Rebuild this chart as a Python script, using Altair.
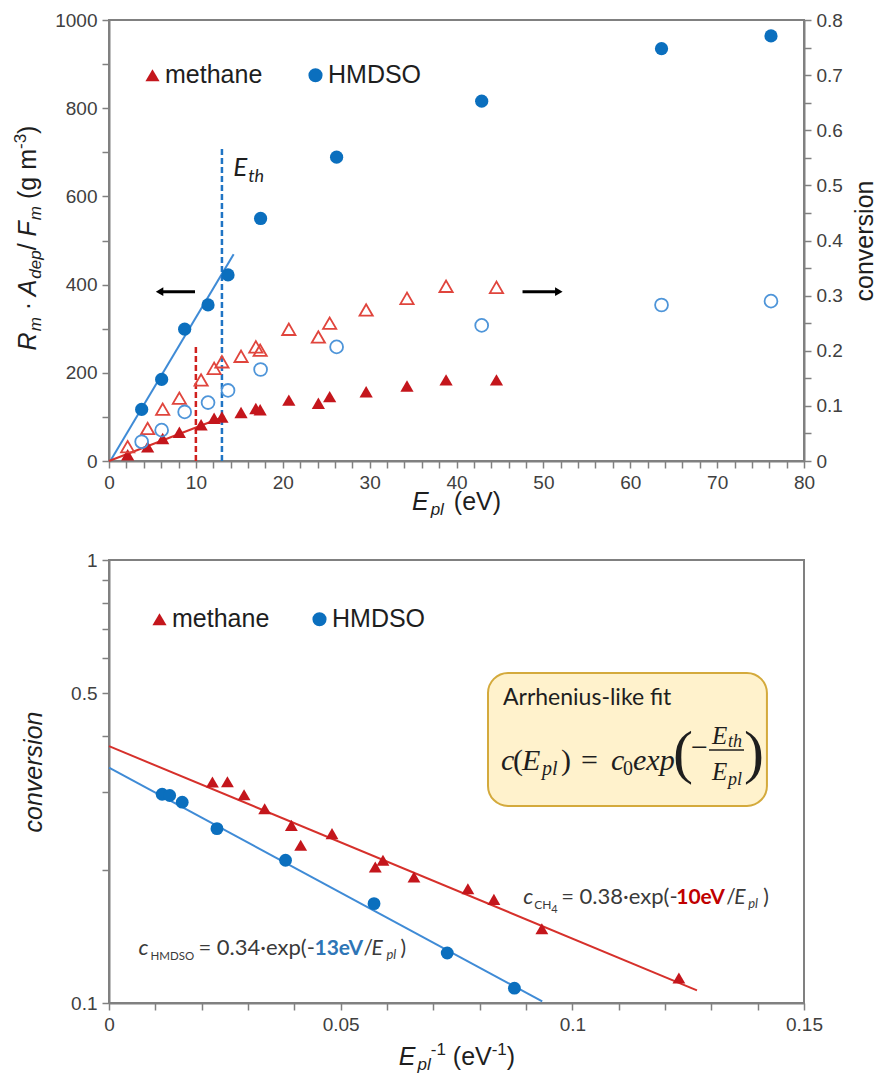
import math
import altair as alt
import pandas as pd

# ---------------- upper panel: E_pl (eV) vs deposition / conversion ----------------
hmdso_energy = [3.76, 6.06, 8.71, 11.4, 13.7, 17.45, 26.2, 42.9, 63.6, 76.2]
hmdso_rate = [117, 185, 299, 354, 422, 550, 689, 816, 935, 964]
hmdso_conversion = [0.035, 0.056, 0.089, 0.106, 0.128, 0.166, 0.207, 0.246, 0.283, 0.290]

methane_energy = [2.15, 4.45, 6.18, 8.1, 10.6, 12.1, 13.0, 15.2, 16.9, 17.4, 20.7,
                  24.1, 25.4, 29.6, 34.3, 38.8, 44.6]
methane_rate = [14, 32, 51, 65, 82, 97, 100, 110, 119, 116, 138, 131, 146, 157, 170, 184, 184]
methane_conversion = [0.026, 0.059, 0.094, 0.114, 0.147, 0.168, 0.180, 0.190, 0.207, 0.201,
                      0.239, 0.225, 0.250, 0.274, 0.295, 0.317, 0.315]

# linear onset fits (two end points each)
hmdso_onset_energy = [0.15, 14.35]
hmdso_onset_rate = [0, 469]
methane_onset_energy = [0.0, 13.3]
methane_onset_rate = [0, 101]

# threshold energies E_th and the height of their dashed markers
threshold_energy = [13, 10]
threshold_top = [714, 263]

# ---------------- lower panel: 1/E_pl vs conversion ----------------
hmdso_inv_energy = [0.01147, 0.0131, 0.0158, 0.0233, 0.0381, 0.0572, 0.0730, 0.0875]
hmdso_conv_log = [0.296, 0.294, 0.284, 0.2475, 0.210, 0.1676, 0.1297, 0.108]

methane_inv_energy = [0.02232, 0.02556, 0.02915, 0.0336, 0.03936, 0.04137, 0.04813,
                      0.05747, 0.05913, 0.06582, 0.07746, 0.08307, 0.09342, 0.1230]
methane_conv_log = [0.3154, 0.3159, 0.2951, 0.2745, 0.2518, 0.227, 0.2411,
                    0.2028, 0.21, 0.1925, 0.1811, 0.1714, 0.1471, 0.1139]

# Arrhenius-like fits c = c0 * exp(-E_th / E_pl)
fit_gas = ["methane", "HMDSO"]
fit_c0 = [0.38, 0.34]
fit_eth = [10, 13]
fit_inv_max = [0.1269, 0.0935]

# ---------------- styling ----------------
BLUE = "#0B6FBE"
BLUE_OPEN = "#4E95D9"
BLUE_LINE = "#3F8BD6"
BLUE_DASH = "#1F74C4"
BLUE_TEXT = "#2E75B6"
RED = "#C4161C"
RED_OPEN = "#E0453D"
RED_LINE = "#D6302B"
RED_DASH = "#D0201E"
RED_TEXT = "#C00000"
INK = "#1E1E1E"
GREY_TEXT = "#3A3A3A"
AXIS_GREY = "#808080"
LABEL = "#404040"
SANS = "Liberation Sans"
HUMANIST = "Lato"
SERIF = "Liberation Serif"

W = 695
H_TOP = 441
H_BOT = 443
ONE = pd.DataFrame({"k": [0]})
GAS = ["methane", "HMDSO"]

# Arial-compatible advance widths (1/1000 em) for laying out rich titles
ADV = {" ": 278, "(": 333, ")": 333, "-": 333, ".": 278, "/": 278, "·": 278, "=": 584,
       "A": 667, "E": 667, "F": 611, "R": 722, "V": 667, "a": 556, "c": 500, "d": 556,
       "e": 556, "g": 556, "h": 556, "i": 222, "l": 222, "m": 833, "n": 556, "o": 556,
       "p": 556, "r": 333, "s": 500, "t": 278, "v": 500}


def adv(text, size):
    return sum(ADV.get(ch, 556) for ch in text) * size / 1000.0


def piece(text, x, y, dx=0, dy=0, size=25, italic=False, bold=False, color=INK,
          font=SANS, angle=0, align="left", baseline="alphabetic", data=ONE):
    return alt.Chart(data).mark_text(
        text=text, dx=dx, dy=dy, fontSize=size,
        fontStyle="italic" if italic else "normal",
        fontWeight="bold" if bold else "normal",
        color=color, font=font, angle=angle, align=align, baseline=baseline,
    ).encode(x=x, y=y)


def rich_title(parts, x, y, angle=0):
    """Centred run of (text, size, italic, dy[, kern]) pieces laid out with Arial
    metrics. SVG drops leading/trailing blanks, so they become offsets."""
    parts = [p if len(p) == 5 else (*p, 0) for p in parts]
    total = sum(adv(t, s) + k for t, s, _, _, k in parts)
    pos = -total / 2.0
    out = []
    for t, s, it, dy, k in parts:
        lead = len(t) - len(t.lstrip(" "))
        out.append(piece(t.strip(" "), x, y, dx=pos + adv(" " * lead, s), dy=dy,
                         size=s, italic=it, angle=angle))
        pos += adv(t, s) + k
    return out


def gas_legend(lx, ly, offset, gap):
    return alt.Legend(title=None, orient="none", legendX=lx, legendY=ly,
                      direction="horizontal", symbolSize=200, symbolStrokeWidth=0,
                      symbolOpacity=1, labelFont=SANS, labelFontSize=25,
                      labelColor=INK, labelOffset=offset, columnPadding=gap, padding=0)


# ======================= upper panel =======================
XS_TOP = alt.Scale(domain=[0, 80], nice=False, zero=False)
XA_TOP = alt.Axis(values=list(range(0, 81, 2)), format="d", title=None,
                  labelExpr="datum.value % 10 === 0 ? datum.label : ''")
YS_L = alt.Scale(domain=[0, 1000], nice=False)
YA_L = alt.Axis(values=list(range(0, 1001, 100)), format="d", title=None, orient="left",
                labelExpr="datum.value % 200 === 0 ? datum.label : ''")
YS_R = alt.Scale(domain=[0, 0.8], nice=False)
YA_R = alt.Axis(values=[round(0.05 * i, 2) for i in range(17)], format="~g", title=None,
                orient="right",
                labelExpr="abs(datum.value * 10 - round(datum.value * 10)) < 1e-6 ? datum.label : ''")


def xt(f):
    return alt.X(f, type="quantitative", scale=XS_TOP, axis=XA_TOP)


def yl(f):
    return alt.Y(f, type="quantitative", scale=YS_L, axis=YA_L)


def yr(f):
    return alt.Y(f, type="quantitative", scale=YS_R, axis=YA_R)


rate_df = pd.DataFrame({
    "E": methane_energy + hmdso_energy,
    "rate": methane_rate + hmdso_rate,
    "gas": ["methane"] * len(methane_energy) + ["HMDSO"] * len(hmdso_energy),
})
onset_hmdso = pd.DataFrame({"E": hmdso_onset_energy, "rate": hmdso_onset_rate})
onset_methane = pd.DataFrame({"E": methane_onset_energy, "rate": methane_onset_rate})
thresholds = pd.DataFrame({"E": threshold_energy, "y0": [0, 0], "y1": threshold_top,
                           "c": [BLUE_DASH, RED_DASH]})

# arrows pointing at the axis each series belongs to
arrow_tip = [5.4, 52.2]
arrow_tail = [9.9, 47.6]
arrow_dir = [-1, 1]
arrow_y = [384, 384]
head_len = 0.42
arrows = pd.DataFrame({
    "tail": arrow_tail,
    "neck": [t - d * head_len for t, d in zip(arrow_tip, arrow_dir)],
    "head": [t - d * head_len for t, d in zip(arrow_tip, arrow_dir)],
    "y": arrow_y,
    "shape": ["triangle-left" if d < 0 else "triangle-right" for d in arrow_dir],
})

color_top = alt.Color("gas:N", scale=alt.Scale(domain=GAS, range=[RED, BLUE]),
                      legend=gas_legend(31, 42.5, 0, 40))
shape_top = alt.Shape("gas:N", scale=alt.Scale(domain=GAS, range=["triangle-up", "circle"]),
                      legend=gas_legend(31, 42.5, 0, 40))

left_layers = [
    alt.Chart(onset_hmdso).mark_line(color=BLUE_LINE, strokeWidth=2).encode(x=xt("E"), y=yl("rate")),
    alt.Chart(onset_methane).mark_line(color=RED_LINE, strokeWidth=2).encode(x=xt("E"), y=yl("rate")),
    alt.Chart(thresholds).mark_rule(strokeDash=[6, 3], strokeWidth=2.5).encode(
        x=xt("E"), y=yl("y0"), y2=alt.Y2("y1"), color=alt.Color("c:N", scale=None)),
    alt.Chart(arrows).mark_rule(color="black", strokeWidth=3).encode(
        x=xt("tail"), x2=alt.X2("neck"), y=yl("y")),
    alt.Chart(arrows).mark_point(filled=True, opacity=1, size=75, color="black").encode(
        x=xt("head"), y=yl("y"), shape=alt.Shape("shape:N", scale=None)),
    alt.Chart(rate_df).mark_point(filled=True, opacity=1, size=175).encode(
        x=xt("E"), y=yl("rate"), color=color_top, shape=shape_top),
]

eth_label = pd.DataFrame({"E": [14.3], "rate": [646]})
left_layers += [
    piece("E", xt("E"), yl("rate"), size=26, italic=True, font=HUMANIST, color=INK, data=eth_label),
    piece("th", xt("E"), yl("rate"), dx=15, dy=6, size=18, italic=True, font=HUMANIST,
          color=INK, data=eth_label),
]

# axis titles built from styled pieces
left_layers += rich_title(
    [("R", 25, True, 0, 1), ("m", 17, True, 5), (" · ", 25, False, 0), ("A", 25, True, 0, 1),
     ("dep", 17, True, 5), ("/ ", 25, False, 0), ("F", 25, True, 0, 1), ("m", 17, True, 5),
     (" (g m", 25, False, 0), ("-3", 17, False, -10), (")", 25, False, 0)],
    alt.value(-73), alt.value(218), angle=270)
left_layers += rich_title(
    [("E", 25, True, 0, 2), ("pl", 17, True, 5, 3), (" (eV)", 25, False, 0)],
    alt.value(347.5), alt.value(490))
left_layers.append(piece("conversion", alt.value(764), alt.value(221), size=25,
                         angle=270, align="center"))

conv_df = pd.DataFrame({
    "E": methane_energy + hmdso_energy,
    "conv": methane_conversion + hmdso_conversion,
    "gas": ["methane"] * len(methane_energy) + ["HMDSO"] * len(hmdso_energy),
})
right_layers = [
    alt.Chart(conv_df).transform_filter(alt.datum.gas == "methane").mark_point(
        filled=False, opacity=1, size=175, strokeWidth=1.8, shape="triangle-up",
        color=RED_OPEN).encode(x=xt("E"), y=yr("conv")),
    alt.Chart(conv_df).transform_filter(alt.datum.gas == "HMDSO").mark_point(
        filled=False, opacity=1, size=165, strokeWidth=1.8, shape="circle",
        color=BLUE_OPEN).encode(x=xt("E"), y=yr("conv")),
]

top = alt.layer(alt.layer(*left_layers), alt.layer(*right_layers)).resolve_scale(
    y="independent").properties(width=W, height=H_TOP)

# ======================= lower panel =======================
X_MAX_B = 0.15
XS_B = alt.Scale(domain=[0, X_MAX_B], nice=False, zero=False)
XA_B = alt.Axis(values=[round(0.01 * i, 2) for i in range(16)], format="~g", title=None,
                labelExpr="abs(datum.value * 20 - round(datum.value * 20)) < 1e-6 ? datum.label : ''")
YS_B = alt.Scale(type="log", domain=[0.1, 1], nice=False)
YA_B = alt.Axis(values=[round(0.1 * i, 1) for i in range(1, 11)], format="~g", title=None,
                labelExpr="(abs(datum.value - 0.1) < 1e-6 || abs(datum.value - 0.5) < 1e-6 || "
                          "abs(datum.value - 1) < 1e-6) ? datum.label : ''")


def xb(f):
    return alt.X(f, type="quantitative", scale=XS_B, axis=XA_B)


def yb(f):
    return alt.Y(f, type="quantitative", scale=YS_B, axis=YA_B)


arr_df = pd.DataFrame({
    "inv": methane_inv_energy + hmdso_inv_energy,
    "conv": methane_conv_log + hmdso_conv_log,
    "gas": ["methane"] * len(methane_inv_energy) + ["HMDSO"] * len(hmdso_inv_energy),
})
fit_rows = []
for g, c0, eth, xmax in zip(fit_gas, fit_c0, fit_eth, fit_inv_max):
    for xv in (0.0, xmax):
        fit_rows.append({"gas": g, "inv": xv, "conv": c0 * math.exp(-eth * xv)})
fit_df = pd.DataFrame(fit_rows)

color_bot = alt.Color("gas:N", scale=alt.Scale(domain=GAS, range=[RED, BLUE]),
                      legend=gas_legend(38, 46.5, 0, 37))
shape_bot = alt.Shape("gas:N", scale=alt.Scale(domain=GAS, range=["triangle-up", "circle"]),
                      legend=gas_legend(38, 46.5, 0, 37))

# annotation box (data corners) and the fraction bar of the formula inside it,
# placed by pixel offsets from the box's top-left corner
box_x1, box_x2, box_y1, box_y2 = 0.0818, 0.1420, 0.5557, 0.2785
box = pd.DataFrame({"x1": [box_x1], "x2": [box_x2], "y1": [box_y1], "y2": [box_y2]})


def box_point(dx, dy):
    return (box_x1 + dx * X_MAX_B / W, 10 ** (math.log10(box_y1) - dy / H_BOT))


bar_a = box_point(221, 77)
bar_b = box_point(256, 77)
frac_bar = pd.DataFrame({"x1": [bar_a[0]], "x2": [bar_b[0]], "y": [bar_a[1]]})

eq_ch4 = pd.DataFrame({"inv": [0.0894], "conv": [0.1673]})
eq_hmdso = pd.DataFrame({"inv": [0.00636], "conv": [0.1283]})

bot_layers = [
    alt.Chart(fit_df).transform_filter(alt.datum.gas == "methane").mark_line(
        strokeWidth=2, color=RED_LINE).encode(x=xb("inv"), y=yb("conv")),
    alt.Chart(fit_df).transform_filter(alt.datum.gas == "HMDSO").mark_line(
        strokeWidth=2, color=BLUE_LINE).encode(x=xb("inv"), y=yb("conv")),
    alt.Chart(arr_df).mark_point(filled=True, opacity=1, size=165).encode(
        x=xb("inv"), y=yb("conv"), color=color_bot, shape=shape_bot),
    alt.Chart(box).mark_rect(fill="#FFF2CC", stroke="#D4AA3C", strokeWidth=2,
                             cornerRadius=20).encode(
        x=xb("x1"), x2=alt.X2("x2"), y=yb("y1"), y2=alt.Y2("y2")),
    alt.Chart(frac_bar).mark_rule(color=INK, strokeWidth=1.6).encode(
        x=xb("x1"), x2=alt.X2("x2"), y=yb("y")),
]


def in_box(text, dx, dy, **kw):
    return piece(text, xb("x1"), yb("y1"), dx=dx, dy=dy, data=box, **kw)


bot_layers += [
    in_box("Arrhenius-like fit", 15, 32, size=23, font=HUMANIST, color=INK),
    in_box("c", 13, 97, size=30, italic=True, font=SERIF),
    in_box("(", 25, 97, size=30, font=SERIF),
    in_box("E", 34, 97, size=30, italic=True, font=SERIF),
    in_box("pl", 54, 102, size=20, italic=True, font=SERIF),
    in_box(")", 73, 97, size=30, font=SERIF),
    in_box("=", 93, 97, size=30, font=SERIF),
    in_box("c", 123, 97, size=30, italic=True, font=SERIF),
    in_box("0", 135, 102, size=20, font=SERIF),
    in_box("exp", 145, 97, size=30, italic=True, font=SERIF),
    in_box("(", 185, 99, size=60, font=SERIF),
    in_box("\u2212", 203, 84, size=30, font=SERIF),
    in_box("E", 224, 71, size=25, italic=True, font=SERIF),
    in_box("th", 240, 74, size=18, italic=True, font=SERIF),
    in_box("E", 224, 107, size=25, italic=True, font=SERIF),
    in_box("pl", 240, 112, size=18, italic=True, font=SERIF),
    in_box(")", 256, 99, size=60, font=SERIF),
]


def eq_piece(data, text, dx, dy=0, **kw):
    kw.setdefault("font", HUMANIST)
    kw.setdefault("color", GREY_TEXT)
    return piece(text, xb("inv"), yb("conv"), dx=dx, dy=dy, data=data, **kw)


bot_layers += [
    eq_piece(eq_ch4, "c", 0, size=22, italic=True),
    eq_piece(eq_ch4, "CH", 11, 5, size=12),
    eq_piece(eq_ch4, "4", 28, 9, size=11),
    eq_piece(eq_ch4, "= 0.38·exp(-", 38, size=22),
    eq_piece(eq_ch4, "10eV", 153, size=21, bold=True, color=RED_TEXT),
    eq_piece(eq_ch4, "/", 203, size=21),
    eq_piece(eq_ch4, "E", 211, size=21, italic=True),
    eq_piece(eq_ch4, "pl", 225, 4, size=13, italic=True),
    eq_piece(eq_ch4, ")", 240, size=21),
    eq_piece(eq_hmdso, "c", 0, size=22, italic=True),
    eq_piece(eq_hmdso, "HMDSO", 12, 5, size=11.5),
    eq_piece(eq_hmdso, "= 0.34·exp(-", 60, size=22),
    eq_piece(eq_hmdso, "13eV", 176, size=21, bold=True, color=BLUE_TEXT),
    eq_piece(eq_hmdso, "/", 225, size=21),
    eq_piece(eq_hmdso, "E", 233, size=21, italic=True),
    eq_piece(eq_hmdso, "pl", 248, 4, size=13, italic=True),
    eq_piece(eq_hmdso, ")", 262, size=21),
]

bot_layers += rich_title(
    [("E", 25, True, 0, 2), ("pl", 17, True, 5), ("-1", 17, False, -10), (" (eV", 25, False, 0),
     ("-1", 17, False, -10), (")", 25, False, 0)],
    alt.value(348), alt.value(505))
bot_layers.append(piece("conversion", alt.value(-67.5), alt.value(212), size=25,
                        italic=True, angle=270, align="center"))

bottom = alt.layer(*bot_layers).properties(width=W, height=H_BOT)

chart = alt.vconcat(top, bottom, spacing=31).resolve_scale(
    color="independent", shape="independent"
).resolve_legend(
    color="independent", shape="independent"
).properties(
    padding={"left": 11, "top": 10, "right": 0, "bottom": 0},
    background="white",
).configure_axis(
    grid=False, labelFont=SANS, labelFontSize=19, labelColor=LABEL,
    domainColor=AXIS_GREY, domainWidth=2, tickColor=AXIS_GREY, tickWidth=1.5,
    tickSize=7, labelPadding=5, labelFlush=False, labelOverlap=False,
).configure_view(stroke=AXIS_GREY, strokeWidth=2)

chart.save("out.html", embed_options={"renderer": "svg", "actions": False})
